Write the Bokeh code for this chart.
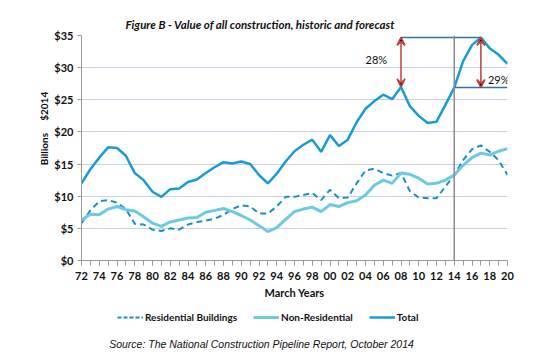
from bokeh.plotting import figure
from bokeh.layouts import column
from bokeh.models import (FixedTicker, NumeralTickFormatter, Span, Label, Legend, LegendItem,
                          Arrow, VeeHead, ColumnDataSource, Range1d)
from bokeh.embed import file_html
from bokeh.resources import INLINE

years = list(range(72, 121))
total = [12.0, 14.2, 16.0, 17.6, 17.5, 16.3, 13.6, 12.5, 10.7, 9.9,
         11.1, 11.2, 12.2, 12.6, 13.6, 14.5, 15.3, 15.1, 15.4, 15.0,
         13.3, 12.0, 13.5, 15.4, 17.0, 18.0, 18.8, 16.9, 19.5, 17.8,
         18.8, 21.5, 23.6, 24.8, 25.8, 25.1, 27.0, 24.0, 22.5, 21.4,
         21.6, 24.2, 26.9, 31.0, 33.5, 34.7, 33.0, 32.0, 30.6]
residential = [5.8, 7.8, 9.2, 9.4, 9.0, 8.0, 5.7, 5.6, 4.8, 4.6,
               5.0, 4.8, 5.6, 6.0, 6.2, 6.5, 7.1, 8.0, 8.6, 8.4,
               7.3, 7.3, 8.4, 9.9, 9.9, 10.2, 10.5, 9.4, 11.0, 9.7,
               9.8, 12.0, 14.0, 14.3, 13.6, 13.2, 13.6, 10.8, 9.8, 9.7,
               9.7, 11.5, 13.3, 15.6, 17.3, 17.9, 16.9, 15.6, 13.3]
non_residential = [6.3, 7.2, 7.1, 8.0, 8.4, 7.9, 7.7, 6.8, 5.8, 5.3,
                   6.0, 6.3, 6.6, 6.7, 7.5, 7.8, 8.1, 7.6, 7.0, 6.3,
                   5.4, 4.5, 5.1, 6.4, 7.6, 8.0, 8.3, 7.6, 8.7, 8.4,
                   9.0, 9.3, 10.2, 11.7, 12.5, 12.0, 13.6, 13.4, 12.8, 11.9,
                   12.0, 12.5, 13.3, 14.8, 16.0, 16.7, 16.4, 17.0, 17.4]
tick_years = list(range(72, 121, 2))
tick_labels = {y: "%02d" % (y % 100) for y in tick_years}
y_ticks = [0, 5, 10, 15, 20, 25, 30, 35]
series_names = ["Residential Buildings", "Non-Residential", "Total"]

# annotation values
peak_hist_year, peak_hist_val = 108, 27.0
peak_fc_year, peak_fc_val = 117, 34.7
base_year = 114
base_val = 26.9
end_year = 120

FONT = "Lato"
NB = "\u00a0"
C_RES, C_NON, C_TOT = "#1b8fc8", "#6ccbe3", "#1a9ad6"
src = ColumnDataSource(dict(x=years, tot=total, res=residential, non=non_residential))

p = figure(width=550, height=305, output_backend="svg", toolbar_location=None,
           x_range=Range1d(72, 120), y_range=Range1d(0, 35),
           min_border_left=81, min_border_right=43, min_border_top=35, min_border_bottom=45,
           background_fill_color="white", border_fill_color="white", outline_line_color=None)

p.title.text = "Figure B - Value of all construction, historic and forecast"
p.title.align = "left"
p.title.offset = 44
p.title.standoff = 8
p.title.vertical_align = "middle"
p.title.text_font = FONT
p.title.text_font_style = "bold italic"
p.title.text_font_size = "11.5px"
p.title.text_color = "#111111"

p.xgrid.grid_line_color = None
p.ygrid.grid_line_color = "#c9cfe2"
p.ygrid.grid_line_width = 1
p.yaxis.ticker = FixedTicker(ticks=y_ticks)
p.yaxis.formatter = NumeralTickFormatter(format="$0")
p.xaxis.ticker = FixedTicker(ticks=tick_years, minor_ticks=years)
p.xaxis.major_label_overrides = tick_labels

for ax in (p.xaxis, p.yaxis):
    ax.axis_line_color = "#9a9a9a"
    ax.major_tick_line_color = "#9a9a9a"
    ax.minor_tick_line_color = "#9a9a9a"
    ax.major_tick_in = 0
    ax.minor_tick_in = 0
    ax.major_label_text_font = FONT
    ax.major_label_text_font_style = "bold"
    ax.major_label_text_font_size = "11px"
    ax.major_label_text_color = "#111111"
    ax.axis_label_text_font = FONT
    ax.axis_label_text_font_style = "bold"
    ax.axis_label_text_color = "#111111"
p.xaxis.major_tick_out = 5
p.xaxis.minor_tick_out = 5
p.yaxis.major_tick_out = 4
p.yaxis.minor_tick_out = 0
p.xaxis.major_label_standoff = 6
p.yaxis.major_label_standoff = 4
p.xaxis.axis_label = "March Years"
p.xaxis.axis_label_text_font_size = "11px"
p.xaxis.axis_label_standoff = 3
p.yaxis.axis_label = NB * 16 + "Billions" + NB * 5 + "$2014"
p.yaxis.axis_label_text_font_size = "10px"
p.yaxis.axis_label_standoff = 1

p.add_layout(Span(location=base_year, dimension="height", line_color="#8c8c8c", line_width=1.5))

p.line("x", "res", source=src, line_color=C_RES, line_width=2, line_dash="6 4")
p.line("x", "non", source=src, line_color=C_NON, line_width=3)
p.line("x", "tot", source=src, line_color=C_TOT, line_width=2.5)

p.segment(x0=[peak_hist_year, base_year], y0=[peak_fc_val, base_val],
          x1=[peak_fc_year, end_year], y1=[peak_fc_val, base_val],
          line_color="#2f74b0", line_width=1.5)

arrow_col = "#b8433d"
for xa, y_lo in ((peak_hist_year, peak_hist_val), (peak_fc_year, base_val)):
    p.add_layout(Arrow(x_start=xa, y_start=y_lo, x_end=xa, y_end=peak_fc_val,
                       line_color=arrow_col, line_width=1.5,
                       start=VeeHead(size=8, line_color=arrow_col, line_width=1.5),
                       end=VeeHead(size=8, line_color=arrow_col, line_width=1.5)))

p.add_layout(Label(x=104.0, y=30.2, text="28%", text_font=FONT, text_font_size="11px",
                   text_color="#111111"))
p.add_layout(Label(x=117.8, y=27.1, text="29%", text_font=FONT, text_font_size="11px",
                   text_color="#111111"))

# footer figure: legend + source (series drawn out of its view, used for legend glyphs)
f = figure(width=550, height=50, output_backend="svg", toolbar_location=None,
           x_range=Range1d(0, 1), y_range=Range1d(0, 1),
           x_axis_location=None, y_axis_location=None,
           min_border_left=81, min_border_right=43, min_border_top=0, min_border_bottom=0,
           background_fill_color="white", border_fill_color="white",
           outline_line_color=None)
f.grid.grid_line_color = None
e_res = f.line("x", "res", source=src, line_color=C_RES, line_width=2, line_dash="4 2")
e_non = f.line("x", "non", source=src, line_color=C_NON, line_width=3)
e_tot = f.line("x", "tot", source=src, line_color=C_TOT, line_width=2.5)
legend = Legend(items=[LegendItem(label=series_names[0], renderers=[e_res]),
                       LegendItem(label=series_names[1], renderers=[e_non]),
                       LegendItem(label=series_names[2], renderers=[e_tot])],
                orientation="horizontal", location=(36, 32),
                background_fill_alpha=0, border_line_color=None,
                label_text_font=FONT, label_text_font_style="bold", label_text_font_size="10px",
                label_text_color="#111111", glyph_width=26, glyph_height=12, label_height=12,
                label_standoff=2, spacing=16, padding=0, margin=0)
f.add_layout(legend)
f.add_layout(Label(x=180, y=12, x_units="screen", y_units="screen",
                   text="Source: The National Construction Pipeline Report, October 2014",
                   text_font="Liberation Sans", text_font_style="italic", text_font_size="10.5px",
                   text_color="#111111", text_align="center", text_baseline="middle"))

layout = column(p, f, spacing=0)
open("out.html", "w").write(file_html(layout, INLINE))
